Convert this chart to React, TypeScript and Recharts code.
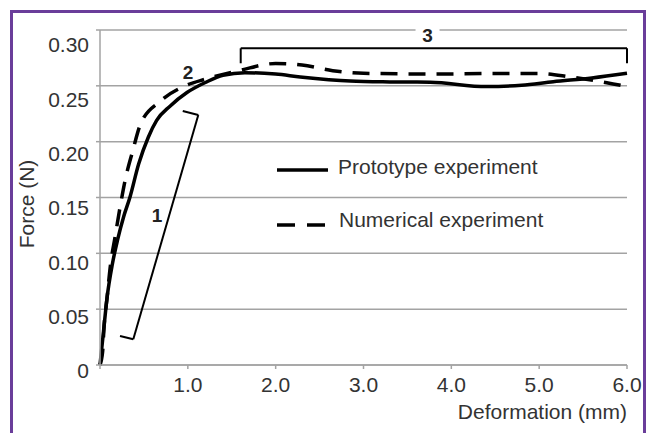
import React from 'react';
import {
  LineChart,
  Line,
  XAxis,
  YAxis,
  CartesianGrid,
  Legend,
  ReferenceLine,
  ReferenceDot,
} from 'recharts';

// values
const prototypeX = [0, 0.04, 0.08, 0.14, 0.2, 0.27, 0.34, 0.44, 0.55, 0.645, 0.8, 0.99, 1.2, 1.4, 1.65, 2.0, 2.28, 2.85, 3.3, 3.76, 4.4, 4.8, 5.16, 5.6, 6.0];
const prototypeY = [0, 0.03, 0.06, 0.09, 0.112, 0.133, 0.15, 0.18, 0.204, 0.219, 0.232, 0.244, 0.253, 0.2595, 0.2618, 0.2605, 0.258, 0.2543, 0.2535, 0.2532, 0.2493, 0.2505, 0.2537, 0.257, 0.2612];

const numericalX = [0, 0.03, 0.045, 0.08, 0.12, 0.17, 0.23, 0.285, 0.37, 0.463, 0.683, 0.968, 1.2, 1.6, 2.0, 2.3, 2.65, 3.0, 3.8, 4.5, 5.0, 5.35, 5.77, 6.0];
const numericalY = [0, 0.012, 0.033, 0.06, 0.09, 0.114, 0.142, 0.165, 0.191, 0.216, 0.236, 0.25, 0.256, 0.264, 0.27, 0.2686, 0.2636, 0.2612, 0.2606, 0.261, 0.261, 0.258, 0.2528, 0.2493];

const xTicks = [0, 1, 2, 3, 4, 5, 6];
const yTicks = [0, 0.05, 0.1, 0.15, 0.2, 0.25, 0.3];

const seriesNames = ['Prototype experiment', 'Numerical experiment'];

// region brackets and their numbers
const bracket1 = [
  { x: 0.228, y: 0.026 },
  { x: 0.379, y: 0.023 },
  { x: 1.119, y: 0.2239 },
  { x: 0.942, y: 0.2275 },
];
const bracket3 = [
  { x: 1.602, y: 0.2702 },
  { x: 1.602, y: 0.2836 },
  { x: 6.0, y: 0.2836 },
  { x: 6.0, y: 0.2702 },
];
const regionLabels = [
  { text: '1', x: 0.649, y: 0.1343, box: false },
  { text: '2', x: 1.002, y: 0.262, box: false },
  { text: '3', x: 3.729, y: 0.2951, box: true },
];

const prototypeData = prototypeX.map((x, i) => ({ x, y: prototypeY[i] }));
const numericalData = numericalX.map((x, i) => ({ x, y: numericalY[i] }));

const FONT = '"Liberation Sans", Arial, Helvetica, sans-serif';
const TEXT = '#333333';
const GRID = '#a3a3a3';

function YTick(props: any) {
  const { x, y, payload } = props;
  const v = payload.value;
  const label = v === 0 ? '0' : v.toFixed(2);
  // labels in the figure sit a little below their grid lines
  const shift = 6 + v * 30;
  return (
    <text x={x} y={y + shift} dy="0.355em" textAnchor="end" fill={TEXT} fontSize={21} fontFamily={FONT}>
      {label}
    </text>
  );
}

function renderLegend() {
  return (
    <svg width={290} height={80} style={{ overflow: 'visible' }}>
      <line x1={0} x2={51} y1={20} y2={20} stroke="#000" strokeWidth={3.5} />
      <text x={61} y={17} dy="0.355em" fontSize={21} fontFamily={FONT} fill={TEXT}>
        {seriesNames[0]}
      </text>
      <line x1={0} x2={51} y1={75} y2={75} stroke="#000" strokeWidth={3.5} strokeDasharray="18 12" />
      <text x={62} y={70} dy="0.355em" fontSize={21} fontFamily={FONT} fill={TEXT}>
        {seriesNames[1]}
      </text>
    </svg>
  );
}

function segments(points: { x: number; y: number }[], key: string) {
  return points.slice(1).map((p, i) => (
    <ReferenceLine
      key={`${key}-${i}`}
      segment={[points[i], p]}
      stroke="#000"
      strokeWidth={2}
      ifOverflow="visible"
    />
  ));
}

export default function App() {
  return (
    <div style={{ position: 'absolute', left: 0, top: 0, width: 652, height: 433, background: '#fff' }}>
      <div
        style={{
          position: 'absolute',
          left: 10,
          top: 10,
          width: 630,
          height: 440,
          borderLeft: '3px solid #6a3d9a',
          borderTop: '3px solid #6a3d9a',
          borderRight: '3px solid #6a3d9a',
        }}
      />
      <div style={{ position: 'absolute', left: 0, top: 0 }}>
        <LineChart width={652} height={433} margin={{ top: 30, right: 25, bottom: 48, left: 40 }}>
          <CartesianGrid vertical={false} stroke={GRID} strokeWidth={1.5} />
          <XAxis
            dataKey="x"
            type="number"
            domain={[0, 6]}
            ticks={xTicks}
            tickFormatter={(v: number) => (v === 0 ? '' : v.toFixed(1))}
            stroke={GRID}
            strokeWidth={1.5}
            tickSize={4}
            tickMargin={8}
            height={20}
            tick={{ fill: TEXT, fontSize: 21, fontFamily: FONT }}
            allowDuplicatedCategory={false}
          />
          <YAxis
            type="number"
            domain={[0, 0.3]}
            ticks={yTicks}
            stroke={GRID}
            strokeWidth={1.5}
            tickSize={4}
            tickMargin={7}
            width={60}
            tick={<YTick />}
          />
          <Legend
            layout="vertical"
            align="center"
            verticalAlign="middle"
            content={renderLegend}
            wrapperStyle={{ left: 277, top: 150, width: 290, height: 80 }}
          />
          <Line
            data={prototypeData}
            dataKey="y"
            name={seriesNames[0]}
            type="monotone"
            stroke="#000"
            strokeWidth={3.5}
            dot={false}
            isAnimationActive={false}
          />
          <Line
            data={numericalData}
            dataKey="y"
            name={seriesNames[1]}
            type="monotone"
            stroke="#000"
            strokeWidth={3.5}
            strokeDasharray="17 11"
            dot={false}
            isAnimationActive={false}
          />
          {segments(bracket1, 'b1')}
          {segments(bracket3, 'b3')}
          {regionLabels.map((l) => (
            <ReferenceDot
              key={l.text}
              x={l.x}
              y={l.y}
              r={0}
              ifOverflow="visible"
              shape={(p: any) => (
                <g>
                  {l.box && <rect x={p.cx - 12} y={p.cy - 8} width={24} height={16} fill="#fff" />}
                  <text
                    x={p.cx}
                    y={p.cy}
                    dy="0.355em"
                    textAnchor="middle"
                    fontSize={19}
                    fontWeight="bold"
                    fontFamily={FONT}
                    fill="#222"
                  >
                    {l.text}
                  </text>
                </g>
              )}
            />
          ))}
          <text x={627} y={412} dy="0.355em" textAnchor="end" fontSize={21} fontFamily={FONT} fill={TEXT}>
            Deformation (mm)
          </text>
          <text
            x={27}
            y={204}
            dy="0.355em"
            textAnchor="middle"
            fontSize={21}
            fontFamily={FONT}
            fill={TEXT}
            transform="rotate(-90 27 204)"
          >
            Force (N)
          </text>
        </LineChart>
      </div>
    </div>
  );
}
